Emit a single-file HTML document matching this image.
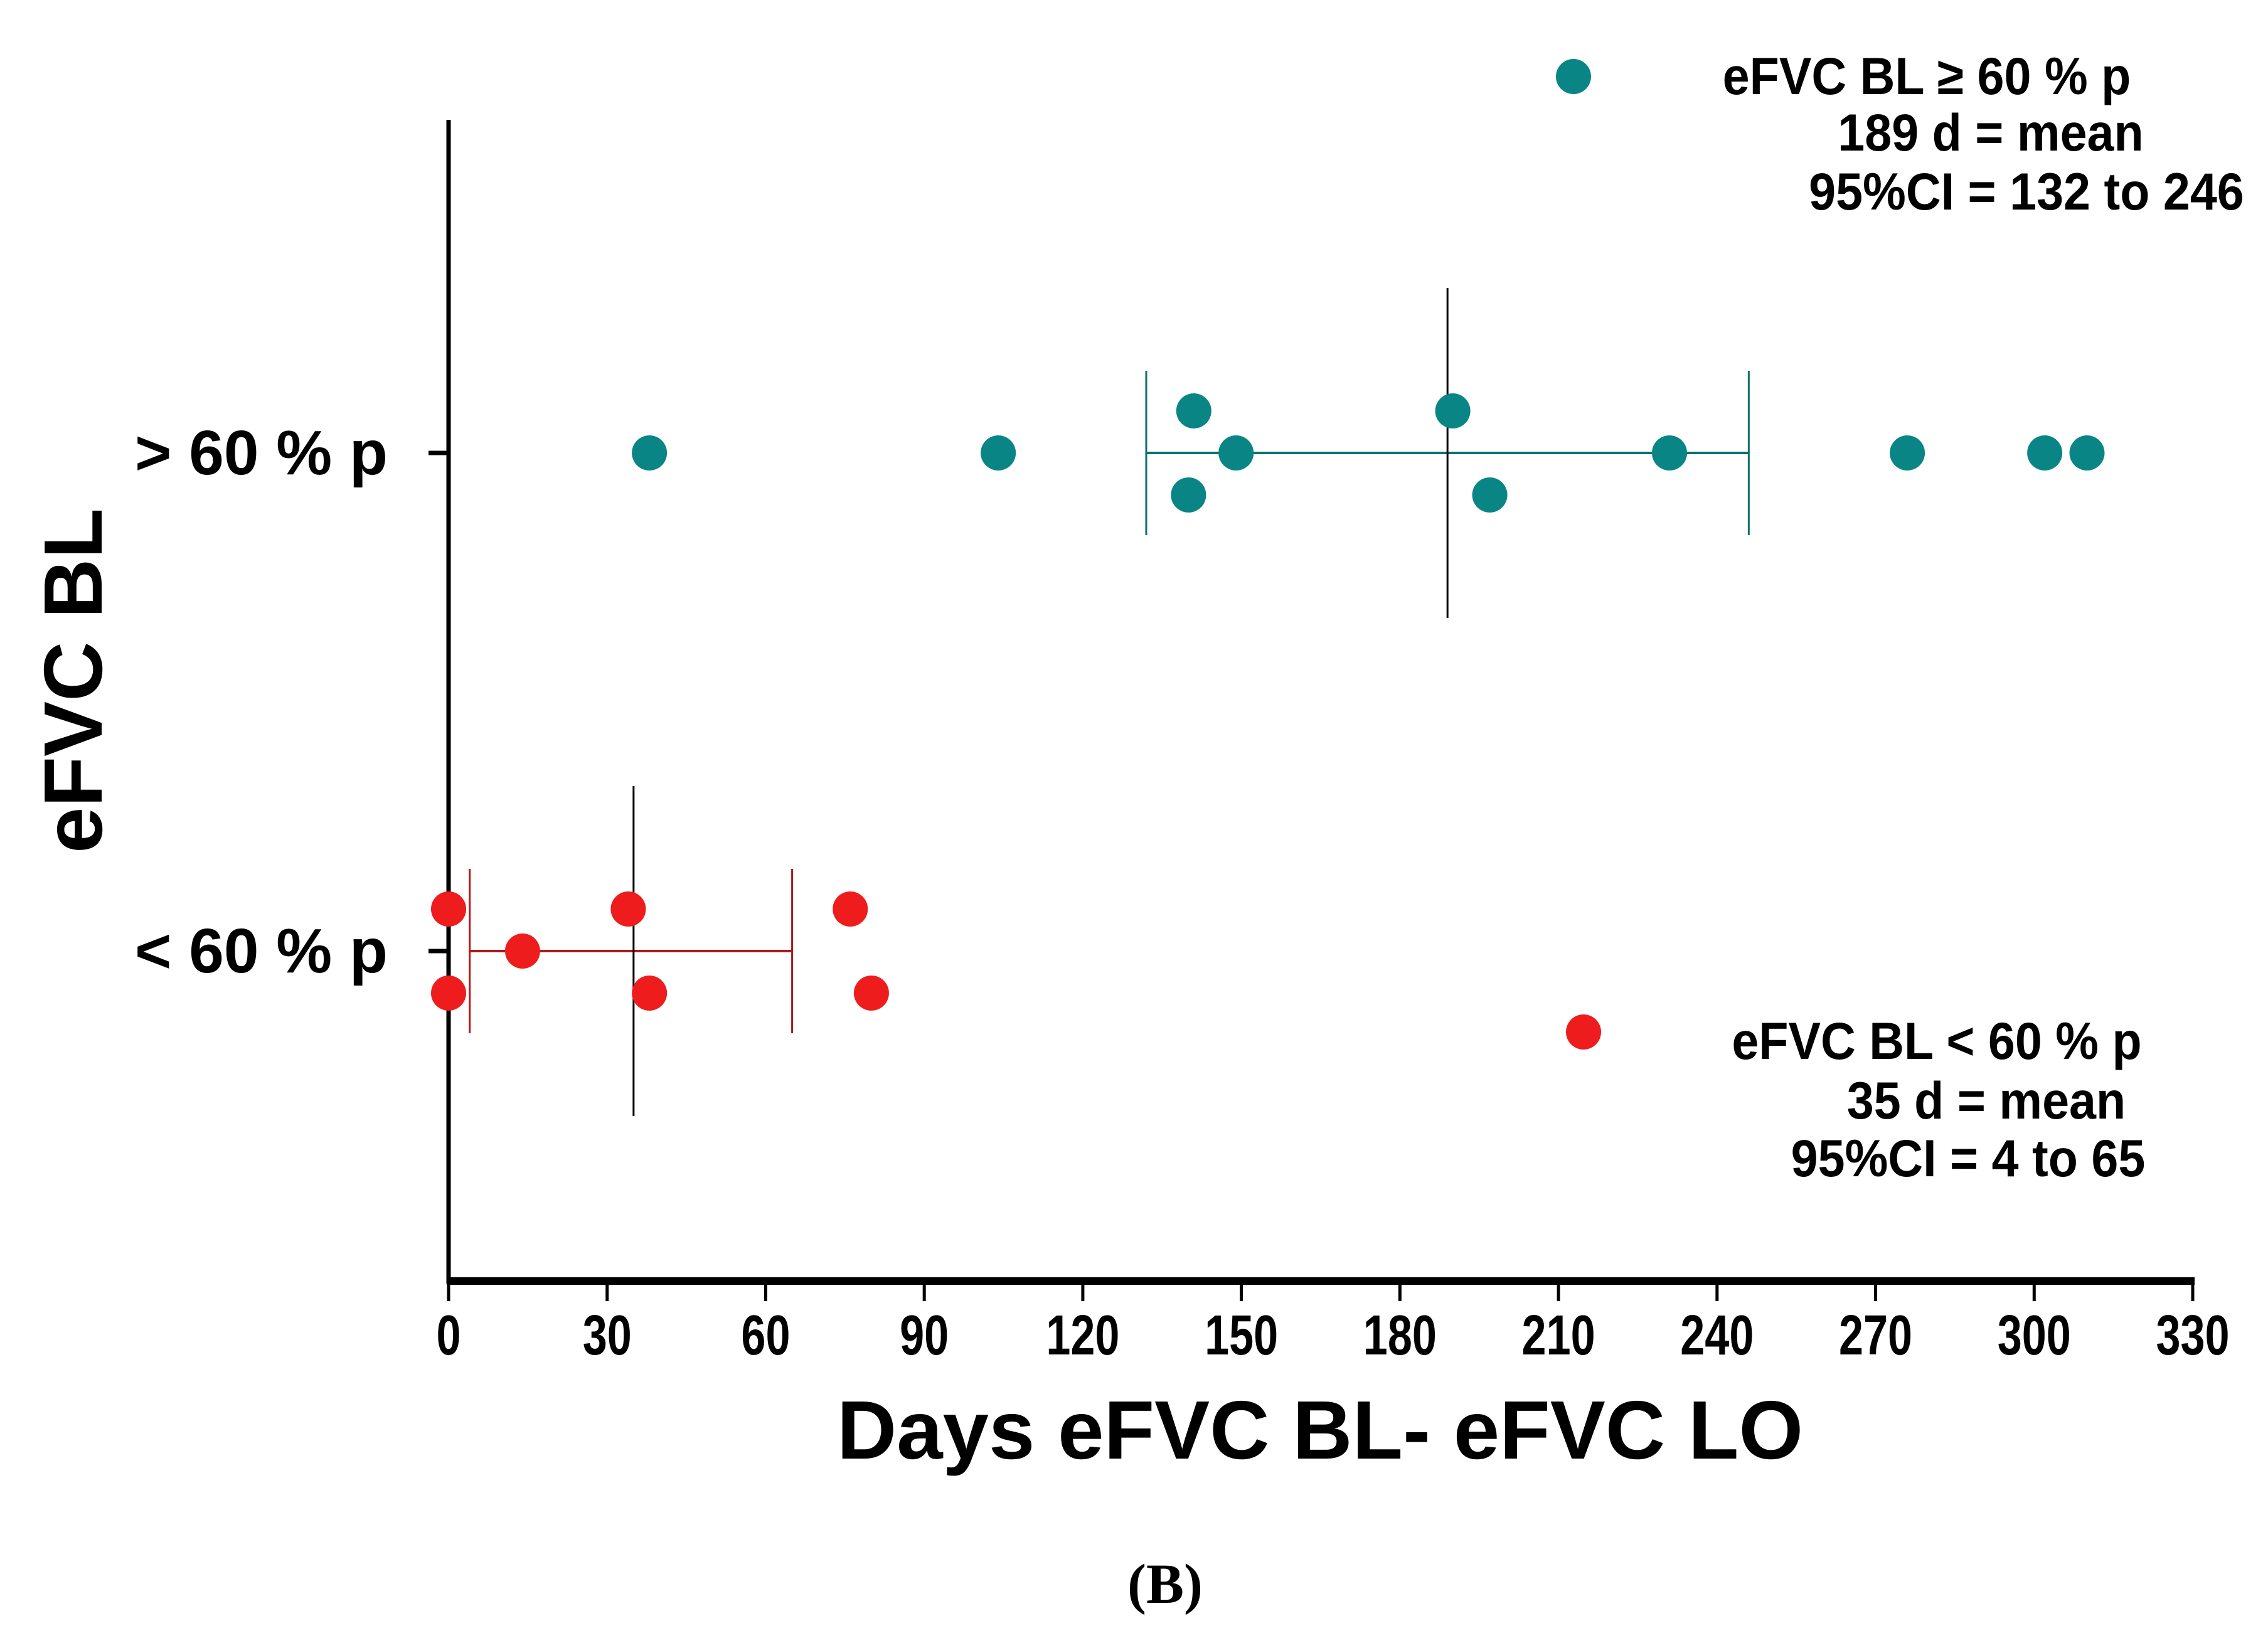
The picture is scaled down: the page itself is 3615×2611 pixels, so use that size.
<!DOCTYPE html>
<html><head><meta charset="utf-8"><style>
html,body{margin:0;padding:0;background:#fff;}
svg{display:block;font-family:"Liberation Sans",Arial,sans-serif;}
</style></head><body>
<svg id="chart" width="3615" height="2611" viewBox="0 0 3615 2611">
</svg>
<script>
const xTicks=[0,30,60,90,120,150,180,210,240,270,300,330];
const categories=["> 60 % p","< 60 % p"];
const tealDays=[38,104,141,140,149,190,197,231,276,302,310];
const tealOffset=[0,0,1,-1,0,1,-1,0,0,0,0];
const redDays=[0,0,14,34,38,76,80];
const redOffset=[1,-1,0,1,-1,1,-1];
const means=[189,35];
const ciLow=[132,4];
const ciHigh=[246,65];
const colors=["#0a8585","#ee1c1c"];
const lineColors=["#0b6f6f","#b01818"];

const NS="http://www.w3.org/2000/svg";
const svg=document.getElementById('chart');
const X0=715,X1=3495,YTOP=191,YAX=2042;
const xs=v=>X0+(v/330)*(X1-X0);
const catY=[722,1516];
const off=67;
function el(t,a,txt){const e=document.createElementNS(NS,t);for(const k in a)e.setAttribute(k,a[k]);if(txt!=null)e.textContent=txt;svg.appendChild(e);return e;}

let e;
e=el('line',{x1:X0,y1:YTOP,x2:X0,y2:YAX+4,stroke:'#000','stroke-width':7});


e=el('line',{x1:X0-3,y1:YAX,x2:X1+3,y2:YAX,stroke:'#000','stroke-width':12});



xTicks.forEach(t=>{
  const x=xs(t);
  let l=el('line',{x1:x,y1:YAX,x2:x,y2:YAX+32,stroke:'#000','stroke-width':5});
  
  
  let tx=el('text',{x:x,y:2159,'font-size':90,'font-weight':'bold','text-anchor':'middle',transform:`translate(${x} 0) scale(0.78 1) translate(${-x} 0)`},String(t));
  
  
});

categories.forEach((c,i)=>{
  let l=el('line',{x1:X0-32,y1:catY[i],x2:X0,y2:catY[i],stroke:'#000','stroke-width':7});
  
  
  let t=el('text',{x:618,y:catY[i]+34,'font-size':100,'font-weight':'bold','text-anchor':'end'},c);
  
  
});

[0,1].forEach(i=>{
  const y=catY[i];
  let a=el('line',{x1:xs(ciLow[i]),y1:y,x2:xs(ciHigh[i]),y2:y,stroke:lineColors[i],'stroke-width':4});
  
  
  [ciLow[i],ciHigh[i]].forEach((v,j)=>{
    let b=el('line',{x1:xs(v),y1:y-131,x2:xs(v),y2:y+131,stroke:lineColors[i],'stroke-width':3});
    
    
  });
  let m=el('line',{x1:xs(means[i]),y1:y-263,x2:xs(means[i]),y2:y+263,stroke:'#000','stroke-width':3});
  
  
});

tealDays.forEach((d,i)=>{
  let c=el('circle',{cx:xs(d),cy:catY[0]-tealOffset[i]*off,r:28,fill:colors[0]});
  
  
});
redDays.forEach((d,i)=>{
  let c=el('circle',{cx:xs(d),cy:catY[1]-redOffset[i]*off,r:28,fill:colors[1]});
  
  
});

let lg=el('circle',{cx:2508,cy:122,r:28,fill:colors[0]});


let lr=el('circle',{cx:2524,cy:1645,r:28,fill:colors[1]});


const legTexts=[
 ["eFVC BL  ≥ 60 % p",3071,150],["189 d = mean",3173,240],["95%CI = 132 to 246",3230,334],
 ["eFVC BL  < 60 % p",3087,1688],["35 d = mean",3166,1783],["95%CI = 4 to 65",3137,1875]];
legTexts.forEach((t,i)=>{
  let tx=el('text',{x:t[1],y:t[2],'font-size':84,'font-weight':'bold','text-anchor':'middle',transform:`translate(${t[1]} 0) scale(0.92 1) translate(${-t[1]} 0)`},t[0]);
  
  
});

let xt=el('text',{x:2104,y:2325,'font-size':132,'font-weight':'bold','text-anchor':'middle'},"Days eFVC BL- eFVC LO");


let yt=el('text',{x:0,y:0,'font-size':132,'font-weight':'bold','text-anchor':'middle',transform:'translate(162 1085) rotate(-90)'},"eFVC BL");


let cap=el('text',{x:1857,y:2555,'font-size':90,'font-weight':'bold','text-anchor':'middle','font-family':'"Liberation Serif",serif'},"(B)");


</script>
</body></html>
